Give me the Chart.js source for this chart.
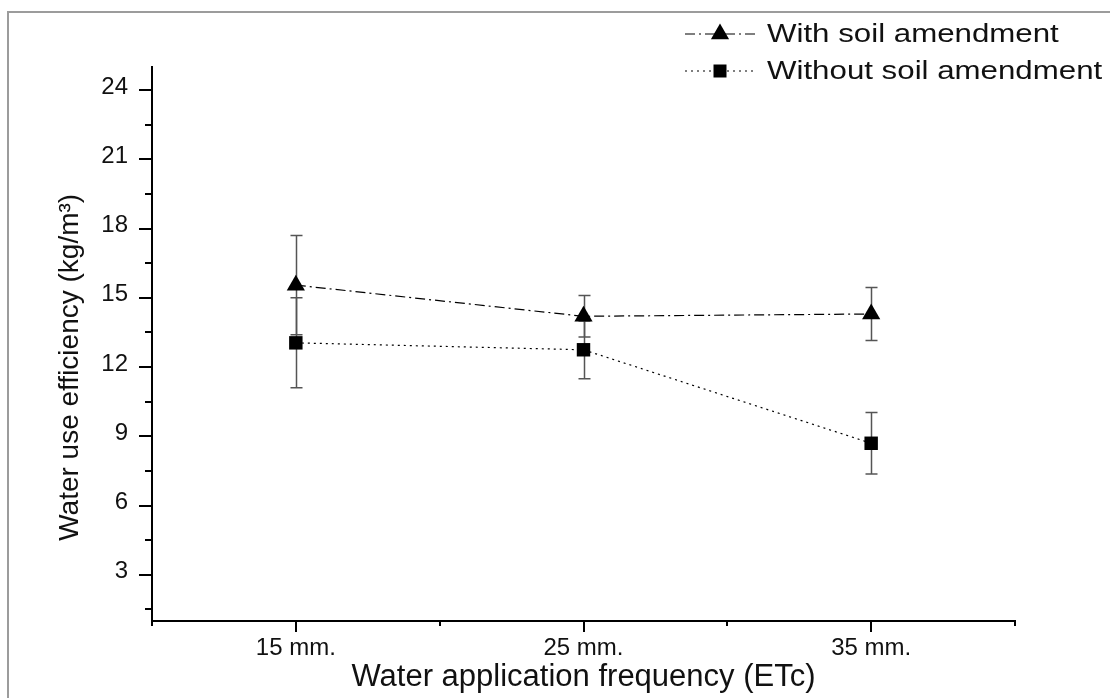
<!DOCTYPE html>
<html>
<head>
<meta charset="utf-8">
<script src="https://cdn.jsdelivr.net/npm/chart.js@4/dist/chart.umd.min.js"></script>
<style>
html, body { margin: 0; padding: 0; background: #fff; }
#wrap { position: relative; width: 1110px; height: 698px; }
#frame { position: absolute; left: 7px; top: 11px; right: 0; bottom: 0;
  border-left: 2px solid #9c9c9c; border-top: 2px solid #9c9c9c; pointer-events: none; }
</style>
</head>
<body>
<div id="wrap">
  <canvas id="wueChart" width="1110" height="698"></canvas>
  <div id="frame"></div>
</div>
<script>
// values
const categories = ['15 mm.', '25 mm.', '35 mm.'];
const xPositions = [1, 2, 3];
const withSoil = [15.55, 14.2, 14.3];
const withSoilErr = [2.15, 0.9, 1.15];
const withoutSoil = [13.05, 12.75, 8.7];
const withoutSoilErr = [1.95, 1.25, 1.33];
const yTickValues = [1.5, 3, 4.5, 6, 7.5, 9, 10.5, 12, 13.5, 15, 16.5, 18, 19.5, 21, 22.5, 24];
const xTickValues = [0.5, 1, 1.5, 2, 2.5, 3, 3.5];

const fontFamily = '"Liberation Sans", Arial, sans-serif';
const ink = '#111';

// error bars, minor/major tick marks and the legend
const extras = {
    id: 'extras',
    beforeDatasetsDraw(chart) {
        const ctx = chart.ctx;
        const xs = chart.scales.x, ys = chart.scales.y;
        ctx.save();
        ctx.strokeStyle = '#555';
        ctx.lineWidth = 1.5;
        [[withSoil, withSoilErr], [withoutSoil, withoutSoilErr]].forEach(([vals, errs]) => {
            vals.forEach((v, i) => {
                const px = Math.round(xs.getPixelForValue(xPositions[i])) + 0.5;
                const top = ys.getPixelForValue(v + errs[i]);
                const bot = ys.getPixelForValue(v - errs[i]);
                ctx.beginPath();
                ctx.moveTo(px, top); ctx.lineTo(px, bot);
                ctx.moveTo(px - 6, top); ctx.lineTo(px + 6, top);
                ctx.moveTo(px - 6, bot); ctx.lineTo(px + 6, bot);
                ctx.stroke();
            });
        });
        ctx.restore();
    },
    afterDraw(chart) {
        const ctx = chart.ctx;
        const xs = chart.scales.x, ys = chart.scales.y;
        const area = chart.chartArea;
        ctx.save();
        ctx.strokeStyle = '#000';
        ctx.lineWidth = 2;
        ctx.beginPath();
        yTickValues.forEach(v => {
            const py = Math.round(ys.getPixelForValue(v));
            const len = v % 3 === 0 ? 13 : 7;
            ctx.moveTo(area.left - len, py); ctx.lineTo(area.left, py);
        });
        xTickValues.forEach(v => {
            const px = Math.round(xs.getPixelForValue(v));
            const len = Number.isInteger(v) ? 11 : 5;
            ctx.moveTo(px, area.bottom); ctx.lineTo(px, area.bottom + len);
        });
        ctx.stroke();

        // legend
        const rows = [
            { text: 'With soil amendment', y: 34, dash: [10, 4, 2, 4], marker: 'triangle' },
            { text: 'Without soil amendment', y: 71, dash: [2, 4], marker: 'square' }
        ];
        rows.forEach(r => {
            ctx.strokeStyle = '#000';
            ctx.lineWidth = 1.2;
            ctx.setLineDash(r.dash);
            ctx.beginPath();
            ctx.moveTo(685, r.y); ctx.lineTo(755, r.y);
            ctx.stroke();
            ctx.setLineDash([]);
            ctx.fillStyle = '#000';
            ctx.beginPath();
            if (r.marker === 'triangle') {
                ctx.moveTo(720, r.y - 10.5);
                ctx.lineTo(720 + 9.1, r.y + 5.2);
                ctx.lineTo(720 - 9.1, r.y + 5.2);
                ctx.closePath();
            } else {
                ctx.rect(713.5, r.y - 6.5, 13, 13);
            }
            ctx.fill();
            ctx.save();
            ctx.translate(767, r.y);
            ctx.scale(1.25, 1);
            ctx.fillStyle = ink;
            ctx.font = '25px ' + fontFamily;
            ctx.textBaseline = 'middle';
            ctx.fillText(r.text, 0, 1);
            ctx.restore();
        });
        ctx.restore();
    }
};

const ctxWue = document.getElementById('wueChart').getContext('2d');
const wueChart = new Chart(ctxWue, {
    type: 'line',
    data: {
        datasets: [{
            label: 'With soil amendment',
            data: categories.map((c, i) => ({ x: xPositions[i], y: withSoil[i] })),
            borderColor: '#000',
            borderWidth: 1.2,
            borderDash: [10, 4, 2, 4],
            pointStyle: 'triangle',
            pointRadius: 10.5,
            pointBackgroundColor: '#000',
            pointBorderColor: '#000',
            pointBorderWidth: 0
        }, {
            label: 'Without soil amendment',
            data: categories.map((c, i) => ({ x: xPositions[i], y: withoutSoil[i] })),
            borderColor: '#000',
            borderWidth: 1.2,
            borderDash: [2, 4],
            pointStyle: 'rect',
            pointRadius: 9.5,
            pointBackgroundColor: '#000',
            pointBorderColor: '#000',
            pointBorderWidth: 0
        }]
    },
    options: {
        responsive: false,
        animation: false,
        layout: { padding: { top: 67, right: 95, left: 0, bottom: 0 } },
        plugins: {
            legend: { display: false },
            tooltip: { enabled: false }
        },
        scales: {
            x: {
                type: 'linear',
                min: 0.5,
                max: 3.5,
                afterBuildTicks: s => { s.ticks = xTickValues.map(v => ({ value: v })); },
                afterFit: s => { s.height = 77; },
                grid: { display: false },
                border: { color: '#000', width: 2 },
                ticks: {
                    padding: 5,
                    color: ink,
                    maxRotation: 0,
                    autoSkip: false,
                    font: { family: fontFamily, size: 24 },
                    callback: v => Number.isInteger(v) ? categories[xPositions.indexOf(v)] : ''
                },
                title: {
                    display: true,
                    text: 'Water application frequency (ETc)',
                    color: ink,
                    font: { family: fontFamily, size: 31 },
                    padding: { top: 0, bottom: 2 }
                }
            },
            y: {
                min: 1,
                max: 25,
                afterBuildTicks: s => { s.ticks = yTickValues.map(v => ({ value: v })); },
                afterFit: s => { s.width = 152; },
                grid: { display: false },
                border: { color: '#000', width: 2 },
                ticks: {
                    padding: 16,
                    labelOffset: -3,
                    color: ink,
                    autoSkip: false,
                    font: { family: fontFamily, size: 24 },
                    callback: v => v % 3 === 0 ? v : ''
                },
                title: {
                    display: true,
                    text: 'Water use efficiency (kg/m³)      ',
                    color: ink,
                    font: { family: fontFamily, size: 28 },
                    padding: { top: 53, bottom: 0 }
                }
            }
        }
    },
    plugins: [extras]
});
</script>
</body>
</html>
